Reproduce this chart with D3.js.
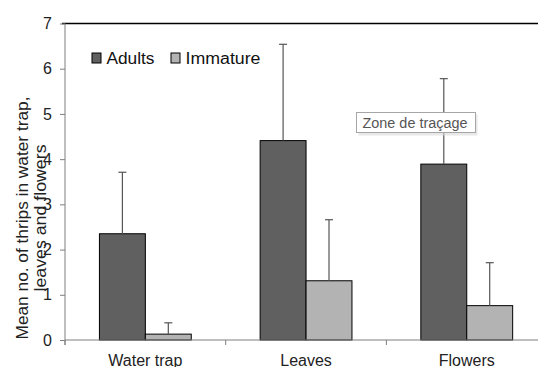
<!DOCTYPE html>
<html>
<head>
<meta charset="utf-8">
<script src="https://cdn.jsdelivr.net/npm/d3@7"></script>
<style>
  html, body { margin: 0; padding: 0; background: #fff; }
  svg { display: block; }
  text { font-family: Arial, "Liberation Sans", sans-serif; }
</style>
</head>
<body>
<div id="chart"></div>
<script>
// Mean thrips counts per sampling method, with upper error bars
const categories = ["Water trap", "Leaves", "Flowers"];
const seriesNames = ["Adults", "Immature"];
const adultsMean = [2.35, 4.41, 3.89];
const adultsErr = [1.36, 2.13, 1.89];
const immatureMean = [0.13, 1.31, 0.76];
const immatureErr = [0.25, 1.35, 0.95];
const yTicks = [0, 1, 2, 3, 4, 5, 6, 7];

const W = 538, H = 367;
const x0 = 65, y0 = 340, yTop = 23.5;
const catWidth = 160.7;

const svg = d3.select("#chart").append("svg")
  .attr("width", W).attr("height", H);

const x = d3.scaleBand()
  .domain(categories)
  .range([x0, x0 + catWidth * categories.length])
  .paddingInner(0).paddingOuter(0);

// bars occupy the middle of each category (gap = 1.5 bar widths)
const xs = d3.scaleBand()
  .domain(seriesNames)
  .range([0, x.bandwidth()])
  .paddingOuter(0.75)
  .paddingInner(0);

const y = d3.scaleLinear().domain([0, 7]).range([y0, yTop]);

const series = [
  { name: "Adults", mean: adultsMean, err: adultsErr, fill: "#606060", legendW: 48 },
  { name: "Immature", mean: immatureMean, err: immatureErr, fill: "#b3b3b3", legendW: 75 }
];

// top border of the plot area
svg.append("line")
  .attr("x1", x0 - 3).attr("x2", W)
  .attr("y1", yTop).attr("y2", yTop)
  .attr("stroke", "#000").attr("stroke-width", 1.5);

// bars
series.forEach(s => {
  svg.append("g").selectAll("rect")
    .data(categories)
    .join("rect")
    .attr("x", (c) => x(c) + xs(s.name))
    .attr("y", (c, i) => y(s.mean[i]))
    .attr("width", xs.bandwidth())
    .attr("height", (c, i) => y(0) - y(s.mean[i]))
    .attr("fill", s.fill)
    .attr("stroke", "#000")
    .attr("stroke-width", 1);
});

// error bars
series.forEach(s => {
  const g = svg.append("g").attr("stroke", "#555").attr("stroke-width", 1.2);
  categories.forEach((c, i) => {
    const cx = x(c) + xs(s.name) + xs.bandwidth() / 2;
    const top = y(s.mean[i] + s.err[i]);
    g.append("line")
      .attr("x1", cx).attr("x2", cx)
      .attr("y1", y(s.mean[i])).attr("y2", top);
    g.append("line")
      .attr("x1", cx - 4).attr("x2", cx + 4)
      .attr("y1", top).attr("y2", top);
  });
});

// y axis
const yAxis = d3.axisLeft(y).tickValues(yTicks).tickSize(5).tickPadding(8)
  .tickFormat(d3.format("d"));
const gy = svg.append("g").attr("transform", `translate(${x0},0)`).call(yAxis);
gy.select(".domain").attr("stroke", "#7f7f7f").attr("d", `M0,${yTop}V${y0 + 5}`);
gy.selectAll(".tick line").attr("stroke", "#7f7f7f");
gy.selectAll(".tick text").attr("font-size", 16).attr("fill", "#222")
  .attr("font-family", "Arial, 'Liberation Sans', sans-serif");

// x axis: ticks at category boundaries
const gx = svg.append("g");
gx.append("line")
  .attr("x1", x0).attr("x2", W)
  .attr("y1", y0).attr("y2", y0)
  .attr("stroke", "#7f7f7f");
const bounds = categories.map(c => x(c));
gx.selectAll("line.tk").data(bounds).join("line")
  .attr("class", "tk")
  .attr("x1", d => d).attr("x2", d => d)
  .attr("y1", y0).attr("y2", y0 + 5)
  .attr("stroke", "#7f7f7f");
gx.selectAll("text").data(categories).join("text")
  .attr("x", c => x(c) + x.bandwidth() / 2)
  .attr("y", 365.5)
  .attr("text-anchor", "middle")
  .attr("font-size", 16)
  .attr("fill", "#222")
  .text(c => c);

// y axis title (two lines)
const titleLines = ["Mean no. of thrips in water trap,", "leaves and flowers"];
const titleLen = [243, 147];
const tg = svg.append("g").attr("transform", "translate(22,218) rotate(-90)");
tg.selectAll("text").data(titleLines).join("text")
  .attr("x", 0)
  .attr("y", (d, i) => i * 18 + 6)
  .attr("text-anchor", "middle")
  .attr("font-size", 16)
  .attr("fill", "#222")
  .attr("textLength", (d, i) => titleLen[i])
  .attr("lengthAdjust", "spacingAndGlyphs")
  .text(d => d);

// legend
const legend = svg.append("g");
const legendX = [92, 171];
series.forEach((s, i) => {
  legend.append("rect")
    .attr("x", legendX[i]).attr("y", 53)
    .attr("width", 9).attr("height", 10)
    .attr("fill", s.fill).attr("stroke", "#000").attr("stroke-width", 1);
  legend.append("text")
    .attr("x", legendX[i] + 14.5).attr("y", 64)
    .attr("font-size", 16).attr("fill", "#111")
    .attr("textLength", s.legendW).attr("lengthAdjust", "spacingAndGlyphs")
    .text(s.name);
});

// hover label box
const tip = svg.append("g");
tip.append("rect")
  .attr("x", 358.5).attr("y", 114.5).attr("width", 119).attr("height", 21)
  .attr("fill", "#d8d8d8").attr("opacity", 0.6);
tip.append("rect")
  .attr("x", 356.5).attr("y", 112.5).attr("width", 119).attr("height", 20)
  .attr("fill", "#fff").attr("stroke", "#a6a6a6").attr("stroke-width", 1);
tip.append("text")
  .attr("x", 362.5).attr("y", 127.5)
  .attr("font-family", "'Open Sans', 'Noto Sans', sans-serif")
  .attr("font-size", 14).attr("fill", "#555")
  .attr("textLength", 105).attr("lengthAdjust", "spacingAndGlyphs")
  .text("Zone de traçage");
</script>
</body>
</html>
